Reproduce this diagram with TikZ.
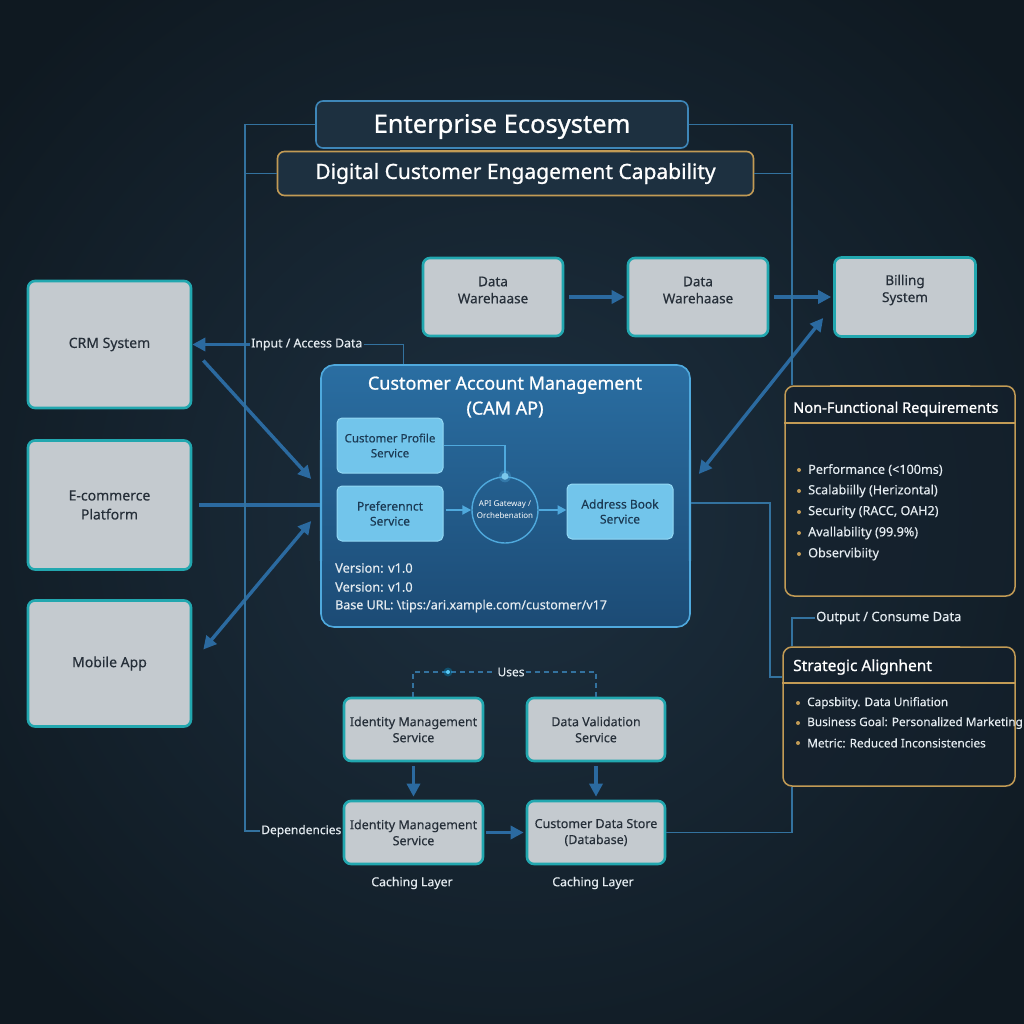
\documentclass[tikz,border=0pt]{standalone}
\usepackage{fontspec}
\setmainfont{Noto Sans}[AutoFakeBold=1.6]
\newfontfamily\semib{Noto Sans}[FakeBold=0.9]
\newfontfamily\medf{Noto Sans}[FakeBold=0.35]
\usetikzlibrary{arrows.meta,calc}
\definecolor{bgIn}{HTML}{1D3040}
\definecolor{bgOut}{HTML}{0F1921}
\definecolor{gbfill}{HTML}{C4CACF}
\definecolor{teal1}{HTML}{22A7AF}
\definecolor{gbtext}{HTML}{262F39}
\definecolor{arrowc}{HTML}{2B6AA0}
\definecolor{framec}{HTML}{33729F}
\definecolor{camtop}{HTML}{2A6EA2}
\definecolor{cambot}{HTML}{1C4B75}
\definecolor{camborder}{HTML}{4FA9DD}
\definecolor{innerfill}{HTML}{72C5EB}
\definecolor{innerborder}{HTML}{93D8F4}
\definecolor{innertext}{HTML}{1B3A54}
\definecolor{goldc}{HTML}{C29B55}
\definecolor{panelfill}{HTML}{15212D}
\definecolor{lbl}{HTML}{E4EBF0}
\definecolor{entborder}{HTML}{3E86B8}
\begin{document}
\begin{tikzpicture}[x=1pt,y=-1pt,
  gbox/.style={draw=teal1, line width=2.6pt, fill=gbfill, rounded corners=7pt, text=gbtext, align=center, inner sep=0pt, font=\medf\fontsize{13.5}{17}\selectfont},
  gtext/.style={text=gbtext, align=center, inner sep=0pt, font=\medf\fontsize{13.5}{17}\selectfont},
  ibox/.style={draw=innerborder, line width=1pt, fill=innerfill, rounded corners=5pt, text=innertext, align=center, inner sep=0pt, font=\medf\fontsize{11.5}{15}\selectfont},
  arr/.style={draw=arrowc, line width=3.4pt, -{Triangle[length=13pt,width=13pt]}},
  darr/.style={draw=arrowc, line width=3.4pt, {Triangle[length=13pt,width=13pt]}-{Triangle[length=13pt,width=13pt]}},
  iarr/.style={draw=camborder, line width=2pt, -{Triangle[length=9pt,width=9pt]}},
  frame/.style={draw=framec, line width=1.3pt},
  lab/.style={text=lbl, inner sep=1pt, font=\medf\fontsize{12}{14}\selectfont},
  panel/.style={draw=goldc, line width=1.5pt, fill=panelfill, fill opacity=0.6, draw opacity=1, rounded corners=9pt, inner sep=0pt},
  bul/.style={text=lbl, anchor=west, inner sep=0pt, font=\medf\fontsize{12.6}{14}\selectfont},
  dotc/.style={fill=goldc, circle, inner sep=0pt, minimum size=4pt}
]
\useasboundingbox (0,0) rectangle (1024,1024);
\shade[inner color=bgIn, outer color=bgOut] (-150,-150) rectangle (1174,1174);

% ---------- header boxes ----------
\node[draw=entborder, line width=1.6pt, fill=bgIn, rounded corners=7pt, minimum width=372pt, minimum height=47pt, inner sep=0pt] (ent) at (502,124.5) {};
\node[text=white, inner sep=0pt, font=\semib\fontsize{25.5}{28}\selectfont] (entt) at ([yshift=-2pt]ent.center) {Enterprise Ecosystem};
\shade[left color=entborder, middle color=cyan!60!white, right color=entborder] (420,100.2) rectangle (585,101.8);
\node[draw=goldc, line width=1.6pt, fill=bgIn, rounded corners=7pt, minimum width=476pt, minimum height=44pt, text=white, font=\semib\fontsize{21}{24}\selectfont] (dig) at (515.5,173.5) {Digital Customer Engagement Capability};
\shade[left color=goldc, middle color=yellow!60!white, right color=goldc] (400,150.2) rectangle (630,151.8);

% ---------- frame lines ----------
\coordinate (fTL) at (245,124.5);
\coordinate (fTR) at (792,124.5);
\draw[frame] (ent.west) -- (fTL);
\draw[frame] (dig.west) -- (dig.west -| fTL);
\draw[frame] (ent.east) -- (fTR);
\draw[frame] (dig.east) -- (dig.east -| fTR);

% ---------- left systems ----------
\node[gbox, minimum width=163pt, minimum height=127pt, font=\medf\fontsize{14}{19}\selectfont] (crm) at (109.5,344.5) {CRM System};
\node[gbox, minimum width=163pt, minimum height=129pt, font=\medf\fontsize{14}{19}\selectfont] (ecom) at (109.5,505) {E-commerce\\Platform};
\node[gbox, minimum width=163pt, minimum height=126pt, font=\medf\fontsize{14}{19}\selectfont] (mob) at (109.5,663.5) {Mobile App};

% ---------- top data boxes ----------
\node[gbox, minimum width=140pt, minimum height=78pt] (dw1) at (493,297) {};
\node[gtext] (dw1t) at ([yshift=7pt]dw1.center) {Data\\Warehaase};
\node[gbox, minimum width=140pt, minimum height=78pt] (dw2) at (698,297) {};
\node[gtext] (dw2t) at ([yshift=7pt]dw2.center) {Data\\Warehaase};
\node[gbox, minimum width=141pt, minimum height=79pt] (bill) at (905,297) {};
\node[gtext] (billt) at ([yshift=7pt]bill.center) {Billing\\System};
\draw[arr] ([xshift=5pt]dw1.east) -- ([xshift=-2pt]dw2.west);
\draw[arr] ([xshift=5pt]dw2.east) -- ([xshift=-2pt]bill.west);

% ---------- CAM ----------
\shade[top color=camtop, bottom color=cambot, rounded corners=13pt] (321,365) rectangle (690,627);
\node[draw=camborder, line width=1.6pt, rounded corners=13pt, minimum width=369pt, minimum height=262pt, inner sep=0pt] (cam) at (505.5,496) {};
\shade[top color=camborder, middle color=cyan!40!white, bottom color=camborder] (319.8,440) rectangle (322.2,560);
\shade[top color=camborder, middle color=cyan!40!white, bottom color=camborder] (688.8,450) rectangle (691.2,560);
\node[text=white, font=\semib\fontsize{18}{25}\selectfont, align=center] (camt) at (505,397) {Customer Account Management\\(CAM AP)};

\node[ibox, minimum width=106pt, minimum height=55pt] (cps) at (390,445.5) {Customer Profile\\Service};
\node[ibox, minimum width=106pt, minimum height=55pt, font=\medf\fontsize{12}{15}\selectfont] (pref) at (390,513.5) {Preferennct\\Service};
\node[draw=camborder, line width=1.4pt, circle, minimum size=66pt, inner sep=0pt, text=white, align=center, font=\fontsize{8}{12}\selectfont] (gw) at (505,510) {API Gateway /\\Orchebenation};
\node[ibox, minimum width=106pt, minimum height=55pt, font=\medf\fontsize{12}{15}\selectfont] (addr) at (620,511.5) {Address Book\\Service};
\draw[draw=camborder, line width=1.4pt] (cps.east) -| (gw.north);
\fill[innerborder] (gw.north) circle (3.5pt);
\fill[camborder, opacity=0.35] (gw.north) circle (6pt);
\draw[iarr] ([xshift=2pt]pref.east |- gw.center) -- (gw.west);
\draw[iarr] (gw.east) -- (addr.west |- gw.center);

\node[anchor=west, text=lbl, inner sep=0pt, font=\medf\fontsize{12.8}{15}\selectfont] (v1) at (335,568) {Version: v1.0};
\node[anchor=west, text=lbl, inner sep=0pt, font=\medf\fontsize{12.8}{15}\selectfont] (v2) at (335,587) {Version: v1.0};
\node[anchor=west, text=lbl, inner sep=0pt, font=\medf\fontsize{12.5}{15}\selectfont] (v3) at (335,606) {Base URL: \textbackslash{}tips:/ari.xample.com/customer/v17};

% ---------- left connectors ----------
\node[lab, anchor=west, font=\medf\fontsize{12.3}{14}\selectfont] (inlbl) at (250,344.5) {Input / Access Data};
\coordinate (inC) at (403.5,344.5);
\draw[arr] (inlbl.west) -- (crm.east);
\draw[frame] (inlbl.east) -- (inC) -- (inC |- cam.north);
\draw[arr] ([shift={(11,16)}]crm.east) -- ([shift={(-9,-17)}]cam.west);
\draw[draw=arrowc, line width=3.4pt] ([xshift=7pt]ecom.east) -- (ecom.east -| cam.west);
\draw[darr] ([shift={(-9,25)}]cam.west) -- ([shift={(11,-14)}]mob.east);

% ---------- right connectors ----------
\draw[darr] ([shift={(8,-22)}]cam.east) -- ([shift={(-10,21)}]bill.west);

% ---------- NFR panel ----------
\node[panel, minimum width=230pt, minimum height=210pt] (nfr) at (900,491) {};
\draw[goldc, line width=1.5pt] (nfr.west |- 0,423) -- (nfr.east |- 0,423);
\shade[left color=goldc, middle color=yellow!60!white, right color=goldc] (830,385.2) rectangle (970,386.8);
\node[anchor=west, text=white, inner sep=0pt, font=\semib\fontsize{14.6}{16}\selectfont] (nfrt) at (793,409) {Non-Functional Requirements};
\foreach \y/\t [count=\i] in {470/{Performance (<100ms)}, 491/{Scalabiilly (Herizontal)}, 512/{Security (RACC, OAH2)}, 533/{Avallability (99.9\%)}, 554/{Observibiity}} {
  \node[dotc] (nb\i) at (799,\y) {};
  \node[bul] (nt\i) at (808,\y) {\t};
}
\draw[frame] (fTR) -- (fTR |- nfr.north);

% ---------- Strategic panel ----------
\node[panel, minimum width=232pt, minimum height=139pt] (strat) at (899,716.5) {};
\draw[goldc, line width=1.5pt] (strat.west |- 0,683) -- (strat.east |- 0,683);
\shade[left color=goldc, middle color=yellow!60!white, right color=goldc] (830,646.2) rectangle (960,647.8);
\node[anchor=west, text=white, inner sep=0pt, font=\semib\fontsize{15.5}{16}\selectfont] (stt) at (793,667) {Strategic Alignhent};
\foreach \y/\t [count=\i] in {703/{Capsbiity. Data Unifiation}, 723/{Business Goal: Personalized Marketing}, 743/{Metric: Reduced Inconsistencies}} {
  \node[dotc] (sb\i) at (798,\y) {};
  \node[bul, font=\medf\fontsize{11.8}{14}\selectfont] (st\i) at (807,\y) {\t};
}
\node[lab, anchor=west, font=\medf\fontsize{13}{15}\selectfont] (outlbl) at (815,618) {Output / Consume Data};
\coordinate (oC) at (792,618);
\draw[frame] (outlbl.west) -- (oC) -- (oC |- strat.north);
\coordinate (rC1) at (770,503);
\coordinate (rC2) at (770,677);
\draw[frame] (cam.east |- rC1) -- (rC1) -- (rC2) -- (rC2 -| strat.west);

% ---------- bottom services ----------
\node[gbox, minimum width=139pt, minimum height=63pt, font=\medf\fontsize{12.5}{16}\selectfont] (idm1) at (413.5,729.5) {Identity Management\\Service};
\node[gbox, minimum width=138pt, minimum height=63pt, font=\medf\fontsize{12.5}{16}\selectfont] (dval) at (596,729.5) {Data Validation\\Service};
\node[gbox, minimum width=139pt, minimum height=63pt, font=\medf\fontsize{12.5}{16}\selectfont] (idm2) at (413.5,832.5) {Identity Management\\Service};
\node[gbox, minimum width=138pt, minimum height=63pt, font=\medf\fontsize{12.5}{16}\selectfont] (cds) at (596,832.5) {Customer Data Store\\(Database)};
\draw[arr] ([yshift=-4pt]idm1.south) -- ([yshift=3pt]idm2.north);
\draw[arr] ([yshift=-4pt]dval.south) -- ([yshift=3pt]cds.north);
\draw[arr] ([xshift=2pt]idm2.east) -- ([xshift=-2pt]cds.west);
\node[lab, font=\medf\fontsize{12.3}{14}\selectfont] (cach1) at (412,883) {Caching Layer};
\node[lab, font=\medf\fontsize{12.3}{14}\selectfont] (cach2) at (593,883) {Caching Layer};

\node[lab] (uses) at (511,672) {Uses};
\coordinate (uL) at (413,672);
\coordinate (uR) at (596,672);
\draw[frame, dashed, dash pattern=on 5pt off 4pt] (idm1.north -| uL) -- (uL) -- (uses.west);
\draw[frame, dashed, dash pattern=on 5pt off 4pt] (uses.east) -- (uR) -- (uR |- dval.north);
\fill[cyan!50!white] (448,672) circle (2pt);
\fill[cyan, opacity=0.3] (448,672) circle (4.5pt);

\node[lab, anchor=east] (dep) at (342.5,831) {Dependencies};
\coordinate (fBL) at (245,831);
\draw[frame] (fTL) -- (fBL) -- (dep.west);
\coordinate (rC3) at (792,832.5);
\draw[frame] (cds.east) -- (rC3) -- (rC3 |- strat.south);
\end{tikzpicture}
\end{document}
